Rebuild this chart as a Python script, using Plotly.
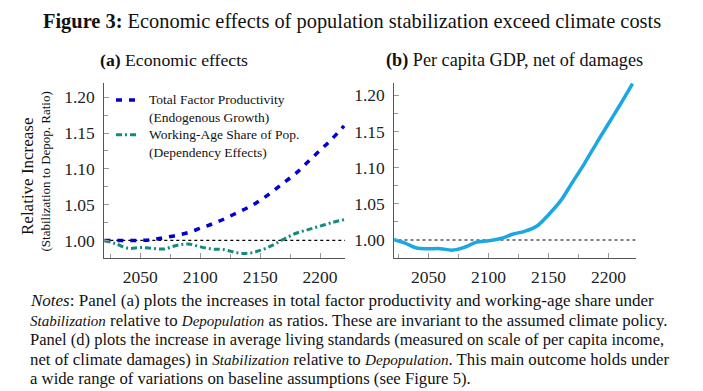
import plotly.graph_objects as go

years = [2020, 2030, 2040, 2050, 2060, 2070, 2080, 2090, 2100, 2110, 2120,
         2130, 2140, 2150, 2160, 2170, 2180, 2190, 2200, 2210, 2220]
tfp = [1.000, 1.000, 1.000, 1.000, 1.001, 1.004, 1.007, 1.011, 1.017, 1.023, 1.030,
       1.038, 1.046, 1.056, 1.068, 1.081, 1.094, 1.110, 1.126, 1.142, 1.160]
was = [1.000, 0.995, 0.989, 0.990, 0.989, 0.988, 0.993, 0.995, 0.991, 0.988, 0.987,
       0.983, 0.982, 0.986, 0.993, 1.002, 1.010, 1.015, 1.020, 1.025, 1.029]
gdp = [1.001, 0.996, 0.989, 0.988, 0.988, 0.986, 0.990, 0.997, 0.999, 1.002, 1.008,
       1.012, 1.019, 1.035, 1.054, 1.080, 1.106, 1.134, 1.161, 1.188, 1.216]

x_ticks = [2050, 2100, 2150, 2200]
y_ticks = [1.00, 1.05, 1.10, 1.15, 1.20]
y_tick_text = ["1.00", "1.05", "1.10", "1.15", "1.20"]

series_names = [["Total Factor Productivity", "(Endogenous Growth)"],
                ["Working-Age Share of Pop.", "(Dependency Effects)"]]
series_colors = ["#0000d2", "#128a7c"]
series_dash = ["6px,7px", "6px,3px,2px,3px"]

FONT = "Liberation Serif"
W, H = 703, 391

def px_x(p):
    return p / W

def px_y(p):
    return 1 - p / H

fig = go.Figure()
fig.add_trace(go.Scatter(x=years, y=tfp, mode="lines", line_shape="spline",
                         name=" ".join(series_names[0]), showlegend=False,
                         line=dict(color=series_colors[0], width=3.5, dash=series_dash[0]),
                         xaxis="x", yaxis="y"))
fig.add_trace(go.Scatter(x=years, y=was, mode="lines", line_shape="spline",
                         name=" ".join(series_names[1]), showlegend=False,
                         line=dict(color=series_colors[1], width=3, dash=series_dash[1]),
                         xaxis="x", yaxis="y"))
fig.add_trace(go.Scatter(x=years, y=gdp, mode="lines", line_shape="spline",
                         name="Per capita GDP, net of damages", showlegend=False,
                         line=dict(color="#1ba8e2", width=3.5),
                         xaxis="x2", yaxis="y2"))

for xr, yr in (("x", "y"), ("x2", "y2")):
    fig.add_shape(type="line", xref=xr, yref=yr, x0=2020, x1=2223, y0=1.0, y1=1.0,
                  line=dict(color="black", width=1.2, dash="dot"), layer="below")

tick_font = dict(family=FONT, size=17.5, color="#222")
axis_common = dict(showline=True, linecolor="#555", linewidth=1, showgrid=False,
                   zeroline=False, ticks="inside", ticklen=5, tickcolor="#999",
                   tickfont=tick_font)
minor_x = dict(dtick=25, tick0=2025, ticks="inside", ticklen=4, tickcolor="#999")
minor_y = dict(dtick=0.025, tick0=1.0, ticks="inside", ticklen=4, tickcolor="#999")

fig.update_layout(
    width=W, height=H, margin=dict(l=0, r=0, t=0, b=0),
    paper_bgcolor="white", plot_bgcolor="white", showlegend=False,
    font=dict(family=FONT, color="#222"),
    xaxis=dict(domain=[px_x(104.3), px_x(345)], range=[2020, 2220.8], anchor="y",
               tickvals=x_ticks, minor=minor_x, ticklabelstandoff=3, **axis_common),
    yaxis=dict(domain=[px_y(258.3), px_y(83.3)], range=[0.975, 1.2196], anchor="x",
               tickvals=y_ticks, ticktext=y_tick_text, minor=minor_y,
               ticklabelstandoff=5, **axis_common),
    xaxis2=dict(domain=[px_x(394.3), px_x(635.7)], range=[2021.5, 2222.6], anchor="y2",
                tickvals=x_ticks, minor=minor_x, ticklabelstandoff=3, **axis_common),
    yaxis2=dict(domain=[px_y(258.3), px_y(82.7)], range=[0.9747, 1.2174], anchor="x2",
                tickvals=y_ticks, ticktext=y_tick_text, minor=minor_y,
                ticklabelstandoff=5, **axis_common),
)

def ann(text, x, y, size, xanchor="center", yanchor="middle", angle=0, color="#111"):
    fig.add_annotation(text=text, x=px_x(x), y=px_y(y), xref="paper", yref="paper",
                       showarrow=False, xanchor=xanchor, yanchor=yanchor, textangle=angle,
                       font=dict(family=FONT, size=size, color=color))

# legend (key samples + labels)
legend_rows = [100, 117.7, 134.7, 152.5]
for i in range(2):
    y0 = legend_rows[2 * i]
    fig.add_shape(type="line", xref="paper", yref="paper",
                  x0=px_x(116), x1=px_x(138), y0=px_y(y0), y1=px_y(y0),
                  line=dict(color=series_colors[i], width=3.5 if i == 0 else 3,
                            dash=series_dash[i]))
    ann(series_names[i][0], 147, y0, 13.5, xanchor="left", color="#111")
    ann(series_names[i][1], 147, legend_rows[2 * i + 1], 13.5, xanchor="left", color="#111")

ann("<b>Figure 3:</b> Economic effects of population stabilization exceed climate costs", 352, 22, 20.4)
ann("<b>(a)</b> Economic effects", 174, 60.5, 17.7)
ann("<b>(b)</b> Per capita GDP, net of damages", 514.5, 60.5, 18.2)
ann("Relative Increase", 27, 176, 17, angle=-90)
ann("(Stabilization to Depop. Ratio)", 45, 171.5, 13, angle=-90)

def it(word, size):
    return f'<span style="font-size:{size}px"><i>{word}</i></span>'

notes = [
    ("<i>Notes</i>: Panel (a) plots the increases in total factor productivity and working-age share under", 17.0),
    (it("Stabilization", 15) + " relative to " + it("Depopulation", 15)
     + " as ratios. These are invariant to the assumed climate policy.", 16.8),
    ("Panel (d) plots the increase in average living standards (measured on scale of per capita income,", 16.5),
    ("net of climate damages) in " + it("Stabilization", 15.2) + " relative to " + it("Depopulation", 15.2)
     + ". This main outcome holds under", 16.8),
    ("a wide range of variations on baseline assumptions (see Figure 5).", 16.7),
]
for i, (line, size) in enumerate(notes):
    ann(line, 28, 300.5 + 19.6 * i, size, xanchor="left")

fig.write_html("out.html", post_script="document.body.style.margin='0';",
               config={"displayModeBar": False})
